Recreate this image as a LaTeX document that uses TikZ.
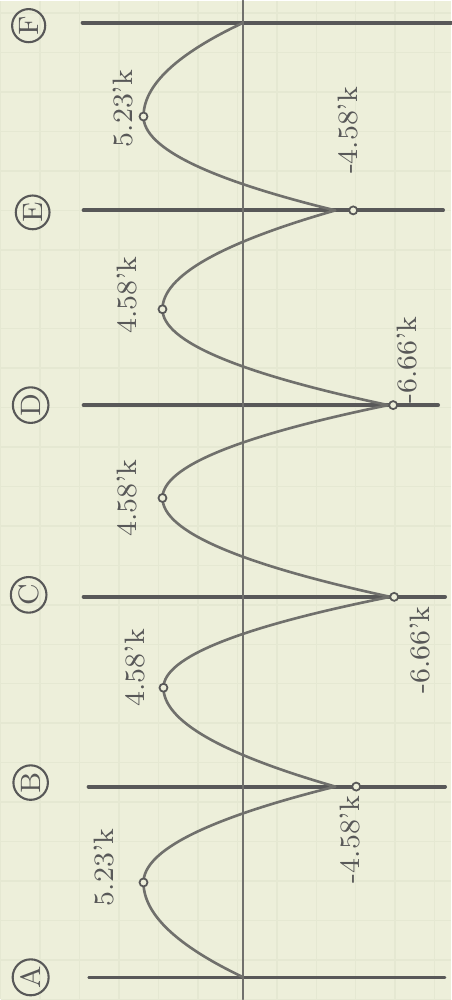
\documentclass[tikz,border=0pt]{standalone}
\usepackage{tkz-euclide}
\usetikzlibrary{calc}
\definecolor{PaperClr}{RGB}{237,239,218}
\definecolor{GridClr}{RGB}{229,232,210}
\definecolor{PencilClr}{RGB}{88,88,88}
\definecolor{CurveClr}{RGB}{112,112,108}

\tikzset{
  support/.style={line width=1.1pt,color=PencilClr},
  valuemark/.style={circle,draw=PencilClr,fill=PaperClr,line width=0.5pt,inner sep=0pt,minimum size=0.8mm},
  support label/.style={circle,draw=PencilClr,line width=0.6pt,inner sep=0.6pt,text=PencilClr,rotate=90,font=\footnotesize},
  moment label/.style={text=PencilClr,rotate=90,font=\footnotesize,inner sep=0pt}
}

\begin{document}
\begin{tikzpicture}
\tkzSetUpLine[line width=1.1pt,color=PencilClr]

% paper
\fill[PaperClr] (0,0) rectangle (4.51,10);
\draw[GridClr,line width=0.4pt,step=0.395] (0,0) grid (4.51,10);
\useasboundingbox (0,0) rectangle (4.51,10);

% supports A ... F and the axis
\tkzDefPoints{0.88/0.22/AL,4.45/0.22/AR,0.88/2.13/BL,4.45/2.13/BR,
  0.83/4.03/CL,4.45/4.03/CR,0.83/5.95/DL,4.38/5.95/DR,
  0.83/7.90/EL,4.43/7.90/ER,0.82/9.78/FL,4.51/9.78/FR,
  2.43/0/OB,2.43/10/OT}

\tkzDrawSegment[line width=0.7pt,color=PencilClr](AL,AR)
\tkzDrawSegments(BL,BR CL,CR DL,DR EL,ER FL,FR)
\tkzDrawSegment[line width=0.5pt,color=CurveClr](OB,OT)

% moment values
\tkzDefPoints{2.43/0.22/A,1.43/1.17/Pab,3.35/2.13/Bc,1.63/3.12/Pbc,
  3.90/4.03/Cc,1.62/5.02/Pcd,3.88/5.95/Dc,1.62/6.91/Pde,
  3.35/7.90/Ec,1.43/8.84/Pef,2.43/9.78/F}

% the moment curve, one half parabola at a time
\draw[CurveClr,line width=0.75pt,line join=round]
  (A) .. controls (1.763,0.537) and (1.43,0.853) .. (Pab)
      .. controls (1.43,1.49) and (2.07,1.81) .. (Bc)
      .. controls (2.203,2.46) and (1.63,2.79) .. (Pbc)
      .. controls (1.63,3.423) and (2.387,3.727) .. (Cc)
      .. controls (2.38,4.36) and (1.62,4.69) .. (Pcd)
      .. controls (1.62,5.33) and (2.373,5.64) .. (Dc)
      .. controls (2.373,6.27) and (1.62,6.59) .. (Pde)
      .. controls (1.62,7.24) and (2.197,7.57) .. (Ec)
      .. controls (2.07,8.213) and (1.43,8.527) .. (Pef)
      .. controls (1.43,9.153) and (1.763,9.467) .. (F);

\node[valuemark] (mab) at (Pab) {};
\node[valuemark] (mbc) at (Pbc) {};
\node[valuemark] (mcd) at (Pcd) {};
\node[valuemark] (mde) at (Pde) {};
\node[valuemark] (mef) at (Pef) {};
\node[valuemark] (mb) at (3.56,2.13) {};
\node[valuemark] (mc) at (3.94,4.03) {};
\node[valuemark] (md) at (3.93,5.95) {};
\node[valuemark] (me) at (3.53,7.90) {};

\node[moment label] (lab) at (1.03,1.32) {5.23'k};
\node[moment label] (lb) at (3.50,1.60) {-4.58'k};
\node[moment label] (lbc) at (1.35,3.32) {4.58'k};
\node[moment label] (lc) at (4.20,3.50) {-6.66'k};
\node[moment label] (lcd) at (1.27,5.02) {4.58'k};
\node[moment label] (ld) at (4.07,6.40) {-6.66'k};
\node[moment label] (lde) at (1.27,7.05) {4.58'k};
\node[moment label] (le) at (3.48,8.70) {-4.58'k};
\node[moment label] (lef) at (1.23,8.92) {5.23'k};

\node[support label] (sA) at (0.30,0.22) {A};
\node[support label] (sB) at (0.30,2.17) {B};
\node[support label] (sC) at (0.28,4.05) {C};
\node[support label] (sD) at (0.30,5.95) {D};
\node[support label] (sE) at (0.32,7.88) {E};
\node[support label] (sF) at (0.28,9.75) {F};

\end{tikzpicture}
\end{document}
